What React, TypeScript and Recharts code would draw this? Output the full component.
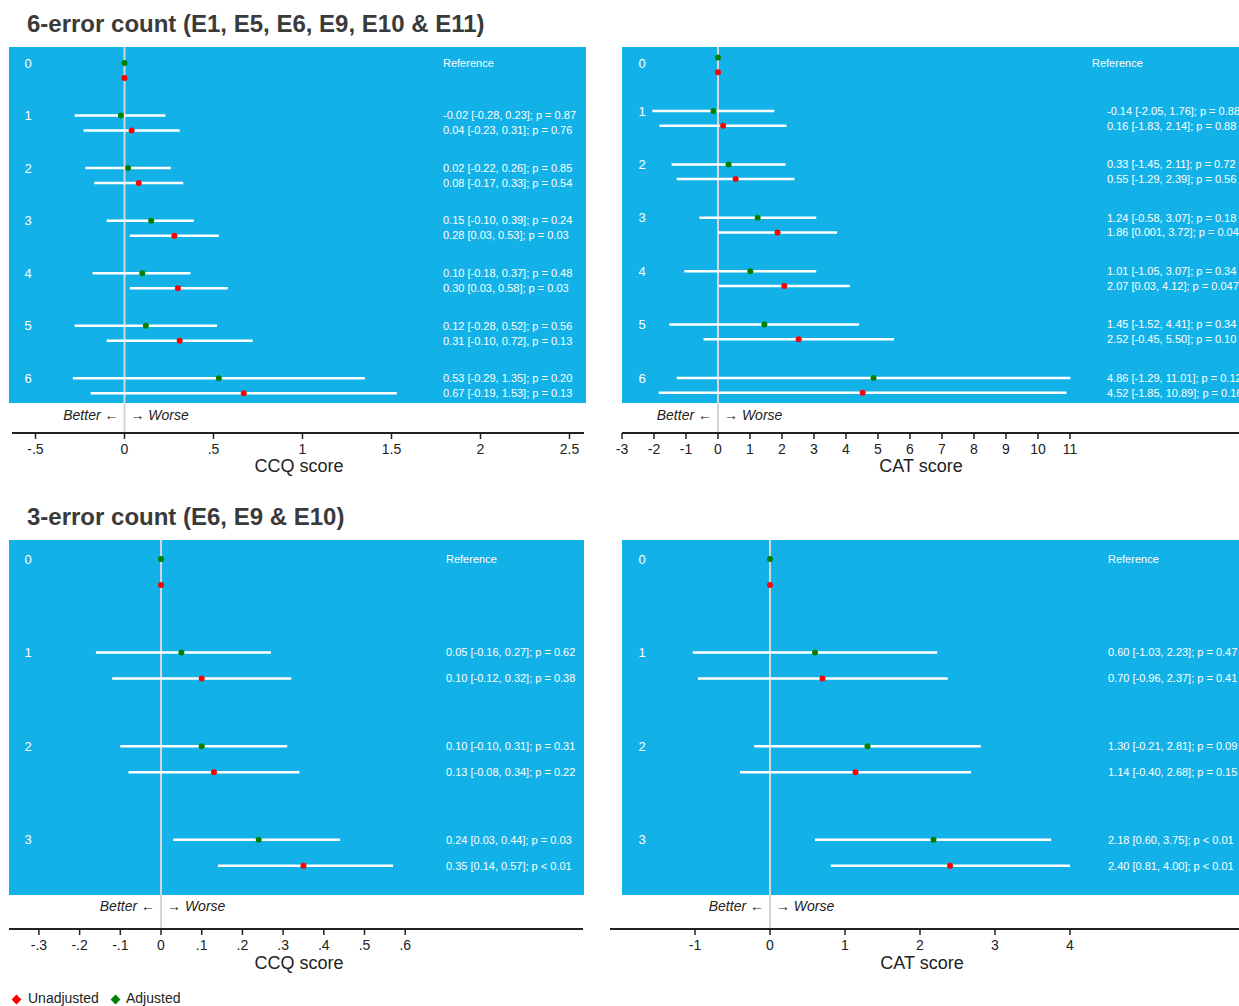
import React from "react";
import {
  ComposedChart,
  Scatter,
  XAxis,
  YAxis,
  ReferenceArea,
  ReferenceLine,
  ErrorBar,
} from "recharts";

const FONT = "'Liberation Sans', Arial, Helvetica, sans-serif";
const PANEL_BLUE = "#12b2e8";
const RED = "#ff0000";
const GREEN = "#008000";
const INK = "#222222";
const TITLE_INK = "#3a3a3a";

// ---------- categories ----------
const ROWS_6 = ["0", "1", "2", "3", "4", "5", "6"];
const ROWS_3 = ["0", "1", "2", "3"];

// ---------- 6-error count, CCQ score ----------
const CCQ6_ADJ_EST = [0, -0.02, 0.02, 0.15, 0.1, 0.12, 0.53];
const CCQ6_ADJ_LO = [0, -0.28, -0.22, -0.1, -0.18, -0.28, -0.29];
const CCQ6_ADJ_HI = [0, 0.23, 0.26, 0.39, 0.37, 0.52, 1.35];
const CCQ6_ADJ_TEXT = [
  "Reference",
  "-0.02 [-0.28, 0.23]; p = 0.87",
  "0.02 [-0.22, 0.26]; p = 0.85",
  "0.15 [-0.10, 0.39]; p = 0.24",
  "0.10 [-0.18, 0.37]; p = 0.48",
  "0.12 [-0.28, 0.52]; p = 0.56",
  "0.53 [-0.29, 1.35]; p = 0.20",
];
const CCQ6_UNADJ_EST = [0, 0.04, 0.08, 0.28, 0.3, 0.31, 0.67];
const CCQ6_UNADJ_LO = [0, -0.23, -0.17, 0.03, 0.03, -0.1, -0.19];
const CCQ6_UNADJ_HI = [0, 0.31, 0.33, 0.53, 0.58, 0.72, 1.53];
const CCQ6_UNADJ_TEXT = [
  "",
  "0.04 [-0.23, 0.31]; p = 0.76",
  "0.08 [-0.17, 0.33]; p = 0.54",
  "0.28 [0.03, 0.53]; p = 0.03",
  "0.30 [0.03, 0.58]; p = 0.03",
  "0.31 [-0.10, 0.72], p = 0.13",
  "0.67 [-0.19, 1.53]; p = 0.13",
];

// ---------- 6-error count, CAT score ----------
const CAT6_ADJ_EST = [0, -0.14, 0.33, 1.24, 1.01, 1.45, 4.86];
const CAT6_ADJ_LO = [0, -2.05, -1.45, -0.58, -1.05, -1.52, -1.29];
const CAT6_ADJ_HI = [0, 1.76, 2.11, 3.07, 3.07, 4.41, 11.01];
const CAT6_ADJ_TEXT = [
  "Reference",
  "-0.14 [-2.05, 1.76]; p = 0.88",
  "0.33 [-1.45, 2.11]; p = 0.72",
  "1.24 [-0.58, 3.07]; p = 0.18",
  "1.01 [-1.05, 3.07]; p = 0.34",
  "1.45 [-1.52, 4.41]; p = 0.34",
  "4.86 [-1.29, 11.01]; p = 0.12",
];
const CAT6_UNADJ_EST = [0, 0.16, 0.55, 1.86, 2.07, 2.52, 4.52];
const CAT6_UNADJ_LO = [0, -1.83, -1.29, 0.001, 0.03, -0.45, -1.85];
const CAT6_UNADJ_HI = [0, 2.14, 2.39, 3.72, 4.12, 5.5, 10.89];
const CAT6_UNADJ_TEXT = [
  "",
  "0.16 [-1.83, 2.14]; p = 0.88",
  "0.55 [-1.29, 2.39]; p = 0.56",
  "1.86 [0.001, 3.72]; p = 0.049",
  "2.07 [0.03, 4.12]; p = 0.047",
  "2.52 [-0.45, 5.50]; p = 0.10",
  "4.52 [-1.85, 10.89]; p = 0.16",
];

// ---------- 3-error count, CCQ score ----------
const CCQ3_ADJ_EST = [0, 0.05, 0.1, 0.24];
const CCQ3_ADJ_LO = [0, -0.16, -0.1, 0.03];
const CCQ3_ADJ_HI = [0, 0.27, 0.31, 0.44];
const CCQ3_ADJ_TEXT = [
  "Reference",
  "0.05 [-0.16, 0.27]; p = 0.62",
  "0.10 [-0.10, 0.31]; p = 0.31",
  "0.24 [0.03, 0.44]; p = 0.03",
];
const CCQ3_UNADJ_EST = [0, 0.1, 0.13, 0.35];
const CCQ3_UNADJ_LO = [0, -0.12, -0.08, 0.14];
const CCQ3_UNADJ_HI = [0, 0.32, 0.34, 0.57];
const CCQ3_UNADJ_TEXT = [
  "",
  "0.10 [-0.12, 0.32]; p = 0.38",
  "0.13 [-0.08, 0.34]; p = 0.22",
  "0.35 [0.14, 0.57]; p < 0.01",
];

// ---------- 3-error count, CAT score ----------
const CAT3_ADJ_EST = [0, 0.6, 1.3, 2.18];
const CAT3_ADJ_LO = [0, -1.03, -0.21, 0.6];
const CAT3_ADJ_HI = [0, 2.23, 2.81, 3.75];
const CAT3_ADJ_TEXT = [
  "Reference",
  "0.60 [-1.03, 2.23]; p = 0.47",
  "1.30 [-0.21, 2.81]; p = 0.09",
  "2.18 [0.60, 3.75]; p < 0.01",
];
const CAT3_UNADJ_EST = [0, 0.7, 1.14, 2.4];
const CAT3_UNADJ_LO = [0, -0.96, -0.4, 0.81];
const CAT3_UNADJ_HI = [0, 2.37, 2.68, 4.0];
const CAT3_UNADJ_TEXT = [
  "",
  "0.70 [-0.96, 2.37]; p = 0.41",
  "1.14 [-0.40, 2.68]; p = 0.15",
  "2.40 [0.81, 4.00]; p < 0.01",
];

// ---------- tick values ----------
const TICKS_CCQ6 = [-0.5, 0, 0.5, 1, 1.5, 2, 2.5];
const TICKS_CAT6 = [-3, -2, -1, 0, 1, 2, 3, 4, 5, 6, 7, 8, 9, 10, 11];
const TICKS_CCQ3 = [-0.3, -0.2, -0.1, 0, 0.1, 0.2, 0.3, 0.4, 0.5, 0.6];
const TICKS_CAT3 = [-1, 0, 1, 2, 3, 4];

const TITLE_6 = "6-error count (E1, E5, E6, E9, E10 & E11)";
const TITLE_3 = "3-error count (E6, E9 & E10)";

type Row = {
  x: number;
  y: number;
  err: [number, number];
  text: string;
  label: string;
  row: number;
};

function buildRows(
  labels: string[],
  est: number[],
  lo: number[],
  hi: number[],
  text: string[],
  yShift: number
): Row[] {
  return labels.map((label, i) => ({
    x: est[i],
    y: i + yShift,
    err: [est[i] - lo[i], hi[i] - est[i]] as [number, number],
    text: text[i],
    label,
    row: i,
  }));
}

const fmtTick = (v: number) => {
  const s = String(Math.round(v * 100) / 100);
  return s.replace(/^(-?)0\./, "$1.");
};

type PanelCfg = {
  left: number;
  top: number;
  width: number;
  height: number;
  margin: { top: number; right: number; bottom: number; left: number };
  xAxisHeight: number;
  xDomain: [number, number];
  yDomain: [number, number];
  ticks: number[];
  panelX: [number, number];
  panelYBottom: number;
  redShift: number;
  rowLabelX: number;
  refTextX: number;
  textX: number;
  bwY: number;
  row0LabelDy: number;
  labels: string[];
  adjEst: number[];
  adjLo: number[];
  adjHi: number[];
  adjText: string[];
  unEst: number[];
  unLo: number[];
  unHi: number[];
  unText: string[];
  axisTitle: string;
  axisTitleX: number;
  axisTitleTop: number;
};

function ForestPanel({ cfg }: { cfg: PanelCfg }) {
  const adj = buildRows(cfg.labels, cfg.adjEst, cfg.adjLo, cfg.adjHi, cfg.adjText, 0);
  const unadj = buildRows(cfg.labels, cfg.unEst, cfg.unLo, cfg.unHi, cfg.unText, cfg.redShift);

  const annotation = (p: any) => {
    const r: Row = p.payload;
    if (!r || !r.text) return null;
    const dy = r.row === 0 ? cfg.row0LabelDy : 0;
    return (
      <text
        x={r.row === 0 ? cfg.refTextX : cfg.textX}
        y={p.cy + dy}
        dy="0.35em"
        fill="#ffffff"
        fontSize={11}
        fontFamily={FONT}
      >
        {r.text}
      </text>
    );
  };

  const adjShape = (p: any) => {
    const r: Row = p.payload;
    const dy = r.row === 0 ? cfg.row0LabelDy : 0;
    return (
      <g>
        <text
          x={cfg.rowLabelX}
          y={p.cy + dy}
          dy="0.35em"
          textAnchor="middle"
          fill="#ffffff"
          fontSize={13}
          fontFamily={FONT}
        >
          {r.label}
        </text>
        <circle cx={p.cx} cy={p.cy} r={3} fill={GREEN} />
        {annotation(p)}
        {r.row === 0 && (
          <g fontFamily={FONT} fontSize={14} fontStyle="italic" fill={INK}>
            <text x={p.cx - 6} y={cfg.bwY} dy="0.35em" textAnchor="end">
              Better {"\u2190"}
            </text>
            <text x={p.cx + 6} y={cfg.bwY} dy="0.35em" textAnchor="start">
              {"\u2192"} Worse
            </text>
          </g>
        )}
      </g>
    );
  };

  const unShape = (p: any) => (
    <g>
      <circle cx={p.cx} cy={p.cy} r={3} fill={RED} />
      {annotation(p)}
    </g>
  );

  return (
    <div style={{ position: "absolute", left: cfg.left, top: cfg.top }}>
      <ComposedChart
        width={cfg.width}
        height={cfg.height}
        margin={cfg.margin}
        style={{ fontFamily: FONT }}
      >
        <XAxis
          type="number"
          dataKey="x"
          domain={cfg.xDomain}
          allowDataOverflow
          ticks={cfg.ticks}
          interval={0}
          tickFormatter={fmtTick}
          height={cfg.xAxisHeight}
          tickSize={6}
          tickMargin={5}
          axisLine={{ stroke: INK, strokeWidth: 1.8 }}
          tickLine={{ stroke: INK, strokeWidth: 1.5 }}
          tick={{ fill: INK, fontSize: 14, fontFamily: FONT }}
        />
        <YAxis
          type="number"
          dataKey="y"
          domain={cfg.yDomain}
          allowDataOverflow
          reversed
          hide
        />
        <ReferenceArea
          x1={cfg.panelX[0]}
          x2={cfg.panelX[1]}
          y1={cfg.yDomain[0]}
          y2={cfg.panelYBottom}
          fill={PANEL_BLUE}
          fillOpacity={1}
          stroke="none"
          ifOverflow="visible"
        />
        <ReferenceLine x={0} stroke="#d6d6d6" strokeWidth={2} />
        <Scatter data={adj} shape={adjShape} isAnimationActive={false}>
          <ErrorBar
            dataKey="err"
            direction="x"
            width={0}
            stroke="#ffffff"
            strokeWidth={2.5}
            isAnimationActive={false}
          />
        </Scatter>
        <Scatter data={unadj} shape={unShape} isAnimationActive={false}>
          <ErrorBar
            dataKey="err"
            direction="x"
            width={0}
            stroke="#ffffff"
            strokeWidth={2.5}
            isAnimationActive={false}
          />
        </Scatter>
      </ComposedChart>
      <div
        style={{
          position: "absolute",
          left: cfg.axisTitleX - 100,
          top: cfg.axisTitleTop,
          width: 200,
          textAlign: "center",
          fontSize: 18,
          lineHeight: "18px",
          color: INK,
          fontFamily: FONT,
          whiteSpace: "nowrap",
        }}
      >
        {cfg.axisTitle}
      </div>
    </div>
  );
}

const PANELS: PanelCfg[] = [
  {
    left: 0,
    top: 40,
    width: 600,
    height: 440,
    margin: { top: 7, right: 16, bottom: 0, left: 12 },
    xAxisHeight: 47,
    xDomain: [-0.632, 2.5815],
    yDomain: [-0.3045, 7.041],
    ticks: TICKS_CCQ6,
    panelX: [-0.649, 2.593],
    panelYBottom: 6.47,
    redShift: 0.2854,
    rowLabelX: 28,
    refTextX: 443,
    textX: 443,
    bwY: 375,
    row0LabelDy: 0,
    labels: ROWS_6,
    adjEst: CCQ6_ADJ_EST,
    adjLo: CCQ6_ADJ_LO,
    adjHi: CCQ6_ADJ_HI,
    adjText: CCQ6_ADJ_TEXT,
    unEst: CCQ6_UNADJ_EST,
    unLo: CCQ6_UNADJ_LO,
    unHi: CCQ6_UNADJ_HI,
    unText: CCQ6_UNADJ_TEXT,
    axisTitle: "CCQ score",
    axisTitleX: 299,
    axisTitleTop: 417,
  },
  {
    left: 600,
    top: 40,
    width: 700,
    height: 440,
    margin: { top: 7, right: 0, bottom: 0, left: 22 },
    xAxisHeight: 47,
    xDomain: [-3, 18.1875],
    yDomain: [-0.1985, 7.03],
    ticks: TICKS_CAT6,
    panelX: [-3, 18.1875],
    panelYBottom: 6.468,
    redShift: 0.275,
    rowLabelX: 42,
    refTextX: 492,
    textX: 507,
    bwY: 375,
    row0LabelDy: 6,
    labels: ROWS_6,
    adjEst: CAT6_ADJ_EST,
    adjLo: CAT6_ADJ_LO,
    adjHi: CAT6_ADJ_HI,
    adjText: CAT6_ADJ_TEXT,
    unEst: CAT6_UNADJ_EST,
    unLo: CAT6_UNADJ_LO,
    unHi: CAT6_UNADJ_HI,
    unText: CAT6_UNADJ_TEXT,
    axisTitle: "CAT score",
    axisTitleX: 321,
    axisTitleTop: 417,
  },
  {
    left: 0,
    top: 533,
    width: 600,
    height: 440,
    margin: { top: 7, right: 17, bottom: 0, left: 9 },
    xAxisHeight: 44,
    xDomain: [-0.3735, 1.0368],
    yDomain: [-0.203, 3.953],
    ticks: TICKS_CCQ3,
    panelX: [-0.3735, 1.0393],
    panelYBottom: 3.59,
    redShift: 0.2778,
    rowLabelX: 28,
    refTextX: 446,
    textX: 446,
    bwY: 373,
    row0LabelDy: 0,
    labels: ROWS_3,
    adjEst: CCQ3_ADJ_EST,
    adjLo: CCQ3_ADJ_LO,
    adjHi: CCQ3_ADJ_HI,
    adjText: CCQ3_ADJ_TEXT,
    unEst: CCQ3_UNADJ_EST,
    unLo: CCQ3_UNADJ_LO,
    unHi: CCQ3_UNADJ_HI,
    unText: CCQ3_UNADJ_TEXT,
    axisTitle: "CCQ score",
    axisTitleX: 299,
    axisTitleTop: 421,
  },
  {
    left: 600,
    top: 533,
    width: 700,
    height: 440,
    margin: { top: 7, right: 0, bottom: 0, left: 10 },
    xAxisHeight: 44,
    xDomain: [-2.1333, 7.0667],
    yDomain: [-0.203, 3.953],
    ticks: TICKS_CAT3,
    panelX: [-1.9733, 7.0667],
    panelYBottom: 3.59,
    redShift: 0.2778,
    rowLabelX: 42,
    refTextX: 508,
    textX: 508,
    bwY: 373,
    row0LabelDy: 0,
    labels: ROWS_3,
    adjEst: CAT3_ADJ_EST,
    adjLo: CAT3_ADJ_LO,
    adjHi: CAT3_ADJ_HI,
    adjText: CAT3_ADJ_TEXT,
    unEst: CAT3_UNADJ_EST,
    unLo: CAT3_UNADJ_LO,
    unHi: CAT3_UNADJ_HI,
    unText: CAT3_UNADJ_TEXT,
    axisTitle: "CAT score",
    axisTitleX: 322,
    axisTitleTop: 421,
  },
];

const Diamond = ({ color, left, top }: { color: string; left: number; top: number }) => (
  <div
    style={{
      position: "absolute",
      left,
      top,
      width: 7,
      height: 7,
      background: color,
      transform: "rotate(45deg)",
    }}
  />
);

export default function App() {
  return (
    <div
      style={{
        position: "absolute",
        left: 0,
        top: 0,
        width: 1239,
        height: 1006,
        overflow: "hidden",
        background: "#ffffff",
        fontFamily: FONT,
      }}
    >
      <div
        style={{
          position: "absolute",
          left: 27,
          top: 12,
          fontSize: 24,
          lineHeight: "24px",
          fontWeight: 700,
          color: TITLE_INK,
          whiteSpace: "nowrap",
        }}
      >
        {TITLE_6}
      </div>
      <div
        style={{
          position: "absolute",
          left: 27,
          top: 505,
          fontSize: 24,
          lineHeight: "24px",
          fontWeight: 700,
          color: TITLE_INK,
          whiteSpace: "nowrap",
        }}
      >
        {TITLE_3}
      </div>
      {PANELS.map((cfg, i) => (
        <ForestPanel key={i} cfg={cfg} />
      ))}
      <Diamond color={RED} left={12.5} top={995.5} />
      <div
        style={{
          position: "absolute",
          left: 28,
          top: 991,
          fontSize: 14,
          lineHeight: "14px",
          color: INK,
        }}
      >
        Unadjusted
      </div>
      <Diamond color={GREEN} left={111.5} top={995.5} />
      <div
        style={{
          position: "absolute",
          left: 126,
          top: 991,
          fontSize: 14,
          lineHeight: "14px",
          color: INK,
        }}
      >
        Adjusted
      </div>
    </div>
  );
}
